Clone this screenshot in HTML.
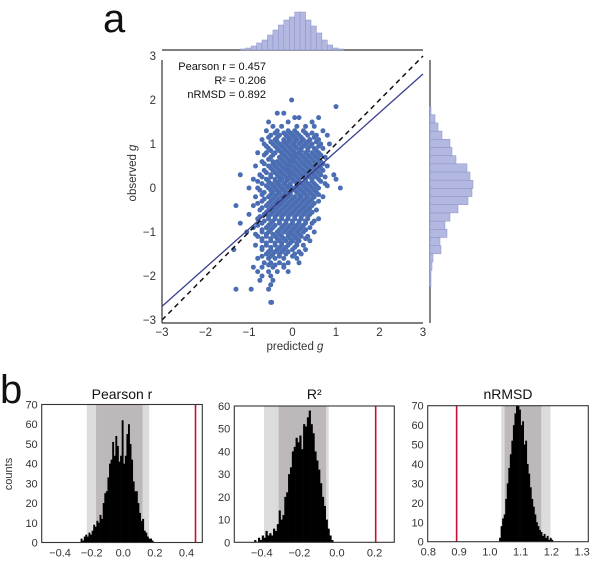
<!DOCTYPE html>
<html><head><meta charset="utf-8">
<style>
html,body{margin:0;padding:0;background:#fff;}
svg{display:block;font-family:"Liberation Sans",Arial,sans-serif;}
</style></head>
<body>
<svg id="fig" width="603" height="562" viewBox="0 0 603 562" xmlns="http://www.w3.org/2000/svg">
<text x="103" y="32" font-size="40" fill="#111">a</text>
<text x="0" y="403" font-size="40" fill="#111">b</text>
<g id="scatterG"></g>
<g id="histG"></g>
</svg>
<script>
// ---------- Panel a data ----------
const scatterRows = [
[2.0,[-0.02]],[1.85,[1.0]],[1.7,[-0.35,-0.2]],[1.6,[0.15,0.05,0.6]],[1.5,[-0.55,-0.1,0.45]],
[1.4,[-0.45,-0.25,0.1,0.3,0.5]],[1.3,[-0.6,-0.35,-0.1,0.05,0.25,0.7]],
[1.2,[-0.5,-0.3,-0.15,0.0,0.15,0.35,0.55,0.8]],[1.1,[-0.7,-0.4,-0.2,-0.05,0.1,0.25,0.4,0.6]],
[1.0,[-0.65,-0.45,-0.3,-0.15,0.0,0.15,0.3,0.45,0.65,0.85]],[0.9,[-0.55,-0.35,-0.2,-0.05,0.1,0.2,0.35,0.5,0.7]],
[0.8,[-0.8,-0.6,-0.4,-0.25,-0.1,0.05,0.15,0.3,0.45,0.6]],[0.7,[-0.5,-0.3,-0.15,0.0,0.1,0.25,0.4,0.55,0.75]],
[0.6,[-0.7,-0.45,-0.35,-0.2,-0.05,0.05,0.2,0.35,0.5,0.65]],[0.5,[-0.85,-0.55,-0.4,-0.25,-0.1,0.0,0.15,0.3,0.45,0.6,0.8]],
[0.4,[-0.65,-0.45,-0.3,-0.15,-0.05,0.1,0.25,0.4,0.55,0.7]],[0.3,[-1.2,-0.75,-0.5,-0.35,-0.2,-0.05,0.05,0.2,0.35,0.5,0.65,0.95]],
[0.2,[-0.9,-0.6,-0.4,-0.25,-0.1,0.0,0.15,0.3,0.45,0.6,1.0]],[0.1,[-0.7,-0.5,-0.35,-0.2,-0.05,0.1,0.2,0.35,0.5,0.75]],
[0.0,[-1.0,-0.8,-0.55,-0.4,-0.25,-0.1,0.0,0.15,0.3,0.45,0.6,1.1]],[-0.1,[-0.65,-0.45,-0.3,-0.15,-0.05,0.1,0.25,0.4,0.55]],
[-0.2,[-0.85,-0.55,-0.4,-0.25,-0.1,0.05,0.2,0.35,0.5,0.7]],[-0.3,[-0.7,-0.5,-0.35,-0.2,-0.05,0.1,0.25,0.4,0.6]],
[-0.4,[-1.3,-0.9,-0.6,-0.45,-0.3,-0.15,0.0,0.15,0.3,0.45]],[-0.5,[-0.75,-0.55,-0.4,-0.25,-0.1,0.05,0.2,0.35,0.55]],
[-0.6,[-1.0,-0.65,-0.5,-0.35,-0.2,-0.05,0.1,0.25,0.4]],[-0.7,[-0.8,-0.55,-0.4,-0.25,-0.1,0.05,0.2,0.35,0.6]],
[-0.8,[-1.2,-0.7,-0.5,-0.3,-0.15,0.0,0.15,0.3,0.45]],[-0.9,[-0.9,-0.6,-0.45,-0.25,-0.1,0.05,0.2,0.4]],
[-1.0,[-1.05,-0.7,-0.55,-0.35,-0.2,-0.05,0.1,0.25,0.5]],[-1.1,[-0.8,-0.6,-0.4,-0.25,-0.1,0.05,0.2,0.35]],
[-1.2,[-0.7,-0.5,-0.3,-0.15,0.0,0.15,0.4]],[-1.3,[-0.85,-0.6,-0.4,-0.25,-0.1,0.1,0.25]],
[-1.4,[-1.35,-0.7,-0.5,-0.35,-0.2,0.0,0.3]],[-1.5,[-0.6,-0.45,-0.3,-0.15,0.05,0.2]],
[-1.6,[-0.8,-0.55,-0.4,-0.2,0.1]],[-1.7,[-0.65,-0.5,-0.3,-0.1,0.15]],[-1.8,[-0.9,-0.7,-0.45,-0.2]],
[-1.9,[-0.8,-0.55,-0.35,-0.1]],[-2.0,[-0.7,-0.5]],[-2.1,[-0.75,-0.45]],[-2.2,[-0.5]],
[-2.3,[-1.3,-0.95,-0.55]],[-2.6,[-0.5,-0.48]],
[1.25,[-0.4,-0.2,-0.05,0.1,0.3,0.45]],[1.15,[-0.55,-0.35,-0.1,0.05,0.2,0.5]],
[1.05,[-0.5,-0.35,-0.2,-0.1,0.05,0.2,0.35,0.55]],[0.95,[-0.6,-0.4,-0.25,-0.1,0.05,0.25,0.4,0.6]],
[0.85,[-0.5,-0.3,-0.15,0.0,0.2,0.35,0.55]],[0.75,[-0.65,-0.45,-0.2,-0.05,0.05,0.2,0.35,0.5,0.65]],
[0.65,[-0.55,-0.25,-0.1,0.0,0.15,0.3,0.45,0.6]],[0.55,[-0.65,-0.45,-0.3,-0.15,-0.05,0.1,0.25,0.4,0.55,0.7]],
[0.45,[-0.5,-0.35,-0.2,-0.1,0.05,0.2,0.35,0.5,0.65]],[0.35,[-0.6,-0.4,-0.25,-0.1,0.0,0.15,0.3,0.45,0.6]],
[0.25,[-0.7,-0.5,-0.3,-0.15,-0.05,0.1,0.25,0.4,0.55,0.75]],[0.15,[-0.8,-0.55,-0.4,-0.3,-0.15,0.05,0.15,0.3,0.45,0.65]],
[0.05,[-0.6,-0.45,-0.3,-0.15,-0.05,0.1,0.25,0.4,0.55,0.8]],[-0.05,[-0.75,-0.5,-0.35,-0.2,0.05,0.2,0.35,0.5]],
[-0.15,[-0.7,-0.5,-0.35,-0.2,-0.05,0.15,0.3,0.45,0.6]],[-0.25,[-0.65,-0.45,-0.3,-0.15,0.0,0.15,0.3,0.45]],
[-0.35,[-0.8,-0.55,-0.4,-0.25,-0.1,0.05,0.2,0.35,0.5]],[-0.45,[-0.7,-0.5,-0.35,-0.2,-0.05,0.1,0.25,0.4]],
[-0.55,[-0.6,-0.45,-0.3,-0.15,0.0,0.15,0.3,0.45]],[-0.65,[-0.75,-0.55,-0.4,-0.25,-0.1,0.05,0.2,0.35]],
[-0.75,[-0.65,-0.45,-0.3,-0.15,0.0,0.15,0.3,0.5]],[-0.85,[-0.8,-0.55,-0.4,-0.2,-0.05,0.1,0.25]],
[-0.95,[-0.7,-0.5,-0.3,-0.15,0.0,0.15,0.3]],[-1.05,[-0.85,-0.6,-0.45,-0.3,-0.1,0.0,0.15]],
[-1.15,[-0.7,-0.5,-0.35,-0.2,-0.05,0.1,0.3]],[-1.25,[-0.6,-0.4,-0.25,-0.05,0.1]],
[-1.35,[-0.7,-0.5,-0.3,-0.15,0.05]],[-1.45,[-0.55,-0.4,-0.25,-0.1,0.15]],
[-1.55,[-0.7,-0.5,-0.3,0.0]],[-1.75,[-0.55,-0.4,-0.2]]
];
const axisTicks = [-3,-2,-1,0,1,2,3];
const fitSlope = 0.88, fitIntercept = -0.05;
const topHistStart = -1.2, topHistStep = 0.125;
const topHistCounts = [1,2,4,7,10,15,20,25,30,33,38,38,30,24,17,10,5,2,1];
const rightHistStart = -2.24, rightHistStep = 0.186;
const rightHistCounts = [1,1,2,3,11,10,17,15,20,28,38,42,43,40,37,26,22,20,12,8,5,1];
const statLines = ["Pearson r = 0.457","R² = 0.206","nRMSD = 0.892"];

// ---------- Panel b data ----------
const pearsonBinStart = -0.27, pearsonBinStep = 0.01;
const pearsonCounts = [2,1,3,4,3,5,4,6,9,8,11,10,14,12,20,25,26,33,40,42,51,44,54,49,41,44,62,40,44,55,60,50,42,31,26,26,20,15,11,12,6,5,3,2,2,1];
const r2BinStart = -0.44, r2BinStep = 0.01;
const r2Counts = [1,0,2,1,3,2,5,3,4,3,6,5,8,14,10,12,20,22,30,33,40,42,46,44,47,41,52,51,55,58,52,48,40,36,32,26,20,16,10,6,3,1];
const nrmsdBinStart = 1.03, nrmsdBinStep = 0.005;
const nrmsdCounts = [2,8,12,14,22,30,38,45,52,60,66,70,70,68,60,62,50,52,40,35,28,22,18,14,10,8,6,5,3,4,2,3,1,2,1];
const pearsonTicks = ["-0.4","-0.2","0.0","0.2","0.4"];
const r2Ticks = ["-0.4","-0.2","0.0","0.2"];
const nrmsdTicks = ["0.8","0.9","1.0","1.1","1.2","1.3"];
const pearsonYTicks = [0,10,20,30,40,50,60,70];
const r2YTicks = [0,10,20,30,40,50,60];
const nrmsdYTicks = [0,10,20,30,40,50,60,70];
const observedValues = [0.457, 0.206, 0.892];
const pearsonBands = [[-0.231,0.164],[-0.172,0.122]];
const r2Bands = [[-0.388,-0.044],[-0.31,-0.058]];
const nrmsdBands = [[1.037,1.197],[1.048,1.167]];

const NS="http://www.w3.org/2000/svg";
function mk(tag, attrs, parent){const e=document.createElementNS(NS,tag);for(const k in attrs)e.setAttribute(k,attrs[k]);parent.appendChild(e);return e;}

// ---------- draw panel a ----------
(function(){
const g=document.getElementById('scatterG');
const X=v=>292.5+43.5*v, Y=v=>188-44*v;
const pL=162,pR=423,pB=323;
for(const row of scatterRows){
  for(const xv of row[1]){
    const c=mk('circle',{cx:X(xv),cy:Y(row[0]),r:2.5,fill:'#4a6db3'},g);
    
    
  }
}
const d=mk('line',{x1:X(-3),y1:Y(-3),x2:X(3),y2:Y(3),stroke:'#111','stroke-width':1.5,'stroke-dasharray':'5,4'},g);


const f=mk('line',{x1:X(-3),y1:Y(fitIntercept+fitSlope*-3),x2:X(3),y2:Y(fitIntercept+fitSlope*3),stroke:'#3a3f8f','stroke-width':1.3},g);


const sp=[[pL,60,pL,pB],[pL,pB,pR,pB],[pL,50,pR,50],[430,60,430,pB]];
for(const s of sp){const l=mk('line',{x1:s[0],y1:s[1],x2:s[2],y2:s[3],stroke:'#333','stroke-width':1.2},g);

}
for(const t of axisTicks){
  const tx=mk('text',{x:X(t),y:336,'font-size':11.5,'text-anchor':'middle',fill:'#333'},g);
  tx.textContent=(t<0?'\u2212':'')+Math.abs(t);
  
  
  const ty=mk('text',{x:156,y:Y(t)+4,'font-size':11.5,'text-anchor':'end',fill:'#333'},g);
  ty.textContent=(t<0?'\u2212':'')+Math.abs(t);
  
  
}
const xl=mk('text',{x:295,y:350,'font-size':11.5,'text-anchor':'middle',fill:'#333'},g);
xl.innerHTML='predicted <tspan font-style="italic">g</tspan>';


const yl=mk('text',{x:0,y:0,'font-size':11.5,'text-anchor':'middle',fill:'#333',transform:'translate(136,173) rotate(-90)'},g);
yl.innerHTML='observed <tspan font-style="italic">g</tspan>';


statLines.forEach((s,i)=>{const t=mk('text',{x:266,y:70+i*14,'font-size':11,'text-anchor':'end',fill:'#111'},g);
t.textContent=s;

});
topHistCounts.forEach((c,i)=>{const x0=X(topHistStart+i*topHistStep), x1=X(topHistStart+(i+1)*topHistStep);
const r=mk('rect',{x:x0,y:50-c,width:x1-x0,height:c,fill:'#b3b8e0',stroke:'#8a90c8','stroke-width':0.5},g);

});
rightHistCounts.forEach((c,i)=>{const y0=Y(rightHistStart+(i+1)*rightHistStep), y1=Y(rightHistStart+i*rightHistStep);
const r=mk('rect',{x:430,y:y0,width:c,height:y1-y0,fill:'#b3b8e0',stroke:'#8a90c8','stroke-width':0.5},g);

});
})();

// ---------- draw panel b ----------
(function(){
const g=document.getElementById('histG');
const panels=[
 {name:'pearson',title:'Pearson r',L:41.7,R:202.3,T:404.5,B:542.5,xmin:-0.516,xmax:0.5,ymax:70,start:pearsonBinStart,step:pearsonBinStep,counts:pearsonCounts,ticks:pearsonTicks,yt:pearsonYTicks,obs:observedValues[0],bands:pearsonBands},
 {name:'r2',title:'R²',L:234.3,R:394.3,T:406,B:542.3,xmin:-0.546,xmax:0.305,ymax:60,start:r2BinStart,step:r2BinStep,counts:r2Counts,ticks:r2Ticks,yt:r2YTicks,obs:observedValues[1],bands:r2Bands},
 {name:'nrmsd',title:'nRMSD',L:427.7,R:588.3,T:405.7,B:541.7,xmin:0.798,xmax:1.32,ymax:70,start:nrmsdBinStart,step:nrmsdBinStep,counts:nrmsdCounts,ticks:nrmsdTicks,yt:nrmsdYTicks,obs:observedValues[2],bands:nrmsdBands}
];
for(const p of panels){
 const X=v=>p.L+(v-p.xmin)/(p.xmax-p.xmin)*(p.R-p.L);
 const Y=v=>p.B-v/p.ymax*(p.B-p.T);
 const bl=mk('rect',{x:X(p.bands[0][0]),y:p.T,width:X(p.bands[0][1])-X(p.bands[0][0]),height:p.B-p.T,fill:'#dcdcdc'},g);
 
 
 const bd=mk('rect',{x:X(p.bands[1][0]),y:p.T,width:X(p.bands[1][1])-X(p.bands[1][0]),height:p.B-p.T,fill:'#bdb8ba'},g);
 
 
 p.counts.forEach((c,i)=>{const x0=X(p.start+i*p.step),x1=X(p.start+(i+1)*p.step);
  const r=mk('rect',{x:x0,y:Y(c),width:x1-x0+0.3,height:p.B-Y(c),fill:'#000'},g);
  
  });
 const rl=mk('line',{x1:X(p.obs),y1:p.T,x2:X(p.obs),y2:p.B,stroke:'#c8102e','stroke-width':1.6},g);
 
 
 const fr=mk('rect',{x:p.L,y:p.T,width:p.R-p.L,height:p.B-p.T,fill:'none',stroke:'#333','stroke-width':1.1},g);
 
 
 for(const t of p.ticks){const v=parseFloat(t);
  const tx=mk('text',{x:X(v),y:p.B+14,'font-size':11,'text-anchor':'middle',fill:'#333'},g);
  tx.textContent=t.replace('-','\u2212');
  
  }
 for(const t of p.yt){
  const ty=mk('text',{x:p.L-4,y:Y(t)+4,'font-size':11,'text-anchor':'end',fill:'#333'},g);
  ty.textContent=t;
  
  }
 const ti=mk('text',{x:(p.L+p.R)/2,y:399,'font-size':14,'text-anchor':'middle',fill:'#111'},g);
 ti.textContent=p.title;
 
 
}
const cl=mk('text',{x:0,y:0,'font-size':11,'text-anchor':'middle',fill:'#333',transform:'translate(12,474) rotate(-90)'},g);
cl.textContent='counts';


})();
</script>
</body></html>
